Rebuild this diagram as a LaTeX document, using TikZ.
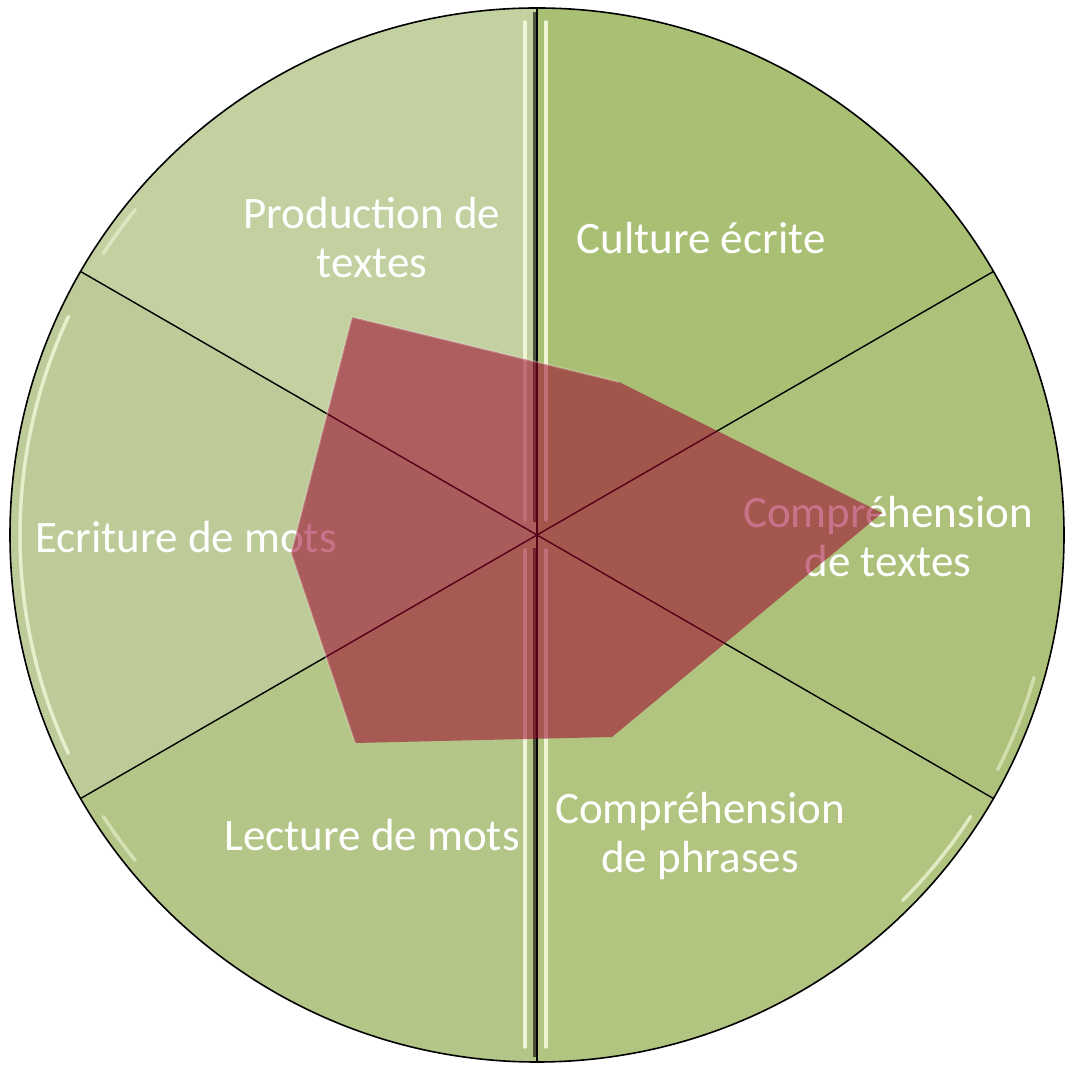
\documentclass[tikz,border=0pt]{standalone}
\usepackage{fontspec}
\setmainfont{Carlito}
\usetikzlibrary{calc}
\definecolor{sA}{HTML}{A9BF74}
\definecolor{sB}{HTML}{C3D1A1}
\definecolor{sC}{HTML}{BCCB97}
\definecolor{sD}{HTML}{B4C687}
\definecolor{sE}{HTML}{B1C480}
\definecolor{sF}{HTML}{ADC17A}
\definecolor{hili}{HTML}{F6FADF}
\definecolor{shade}{HTML}{7F8B6A}
\definecolor{polyred}{HTML}{9D002A}
\tikzset{
  lbl/.style={text=white, align=center, inner sep=0pt, font=\fontsize{45}{49}\selectfont},
  divider/.style={draw=black, line width=1.4pt},
  stripe/.style={draw=hili, line width=3.5pt, line cap=round, opacity=0.9},
}
\begin{document}
\begin{tikzpicture}[x=1pt,y=1pt]
\useasboundingbox (0,0) rectangle (1066,1067);
\def\R{527}
\coordinate (C) at (537,532);
% sectors
\fill[sA] (C) -- ++(30:\R) arc[start angle=30,end angle=90,radius=\R] -- cycle;
\fill[sB] (C) -- ++(90:\R) arc[start angle=90,end angle=150,radius=\R] -- cycle;
\fill[sC] (C) -- ++(150:\R) arc[start angle=150,end angle=210,radius=\R] -- cycle;
\fill[sD] (C) -- ++(210:\R) arc[start angle=210,end angle=270,radius=\R] -- cycle;
\fill[sE] (C) -- ++(270:\R) arc[start angle=270,end angle=330,radius=\R] -- cycle;
\fill[sF] (C) -- ++(330:\R) arc[start angle=330,end angle=390,radius=\R] -- cycle;
% bevel highlights
\draw[shade, line width=3pt, opacity=0.6] (534.5,1055) -- (534.5,545);
\draw[shade, line width=3pt, opacity=0.6] (534.5,519) -- (534.5,10);
\draw[stripe] (525,1045) -- (525,547);
\draw[stripe] (546,1045) -- (546,547);
\draw[stripe] (525,517) -- (525,20);
\draw[stripe] (546,517) -- (546,20);
\draw[stripe, opacity=0.75] ($(C)+(205:517)$) arc[start angle=205,end angle=155,radius=517];
\draw[stripe, opacity=0.7] ($(C)+(327:517)$) arc[start angle=327,end angle=315,radius=517];
\draw[stripe, opacity=0.5] ($(C)+(344:517)$) arc[start angle=344,end angle=333,radius=517];
\draw[stripe, opacity=0.5] ($(C)+(147:517)$) arc[start angle=147,end angle=141,radius=517];
\draw[stripe, opacity=0.5] ($(C)+(219:517)$) arc[start angle=219,end angle=213,radius=517];
% dividers
\draw[divider] ($(C)+(90:\R)$) -- ($(C)+(270:\R)$);
\draw[divider] ($(C)+(150:\R)$) -- ($(C)+(330:\R)$);
\draw[divider] ($(C)+(30:\R)$) -- ($(C)+(210:\R)$);
\draw[black, line width=1.6pt] (C) circle[radius=\R];
% labels
\node[lbl] (lprod) at (372,829.5) {Production de\\textes};
\node[lbl] (lcult) at (701,829) {Culture écrite};
\node[lbl] (lctex) at (888,530.5) {Compréhension\\de textes};
\node[lbl] (lcphr) at (700,231) {Compréhension\\de phrases};
\node[lbl] (llect) at (372,232) {Lecture de mots};
\node[lbl] (lecri) at (186,530) {Ecriture de mots};
% radar polygon
\coordinate (p1) at (352,750);
\coordinate (p2) at (619,685);
\coordinate (p3) at (882,554);
\coordinate (p4) at (612,330);
\coordinate (p5) at (355,324);
\coordinate (p6) at (291,514);
\fill[polyred, opacity=0.55] (p1) -- (p2) -- (p3) -- (p4) -- (p5) -- (p6) -- cycle;
\draw[white, opacity=0.25, line width=2pt] (p5) -- (p6) -- (p1) -- (p2);
\end{tikzpicture}
\end{document}
